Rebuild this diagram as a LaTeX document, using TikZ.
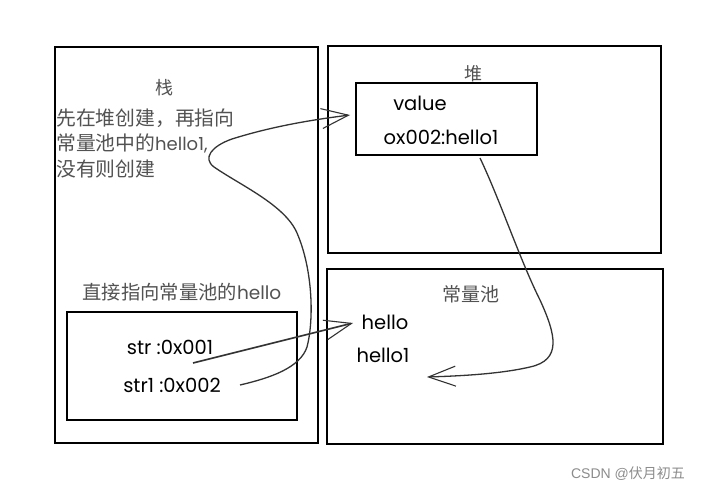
\documentclass[tikz,border=0pt]{standalone}
\usepackage{fontspec}
\setmainfont{Poppins}
\newfontfamily\cjk{Noto Sans CJK SC}
\usetikzlibrary{arrows.meta}
\tikzset{
  frame/.style={draw=black, line width=1.1pt, inner sep=0pt, fill=none},
  zh/.style={font=\cjk\fontsize{18}{20}\selectfont, text=black!68, inner sep=0pt},
  en/.style={font=\fontsize{19.5}{22}\selectfont, text=black, inner sep=0pt},
  conn/.style={draw=black!80, line width=1.3pt, -{Straight Barb[length=27pt,width=20pt,line width=1.1pt]}},
}
\begin{document}
\begin{tikzpicture}[x=1pt,y=-1pt]
\useasboundingbox[fill=white] (0,0) rectangle (712,492);
% frames
\node[frame, minimum width=263pt, minimum height=396pt] (stack) at (186.5,245) {};
\node[frame, minimum width=333pt, minimum height=207pt] (heap) at (494.5,149.5) {};
\node[frame, minimum width=181pt, minimum height=72pt] (valbox) at (446.5,119) {};
\node[frame, minimum width=336pt, minimum height=175pt] (pool) at (495,356.5) {};
\node[frame, minimum width=230pt, minimum height=108pt] (inner) at (182,366) {};
% texts
\node[zh] (tstack) at (164,88) {栈};
\node[zh, anchor=west, align=left, font=\cjk\fontsize{19.8}{25.5}\selectfont] (note) at (56,143)
  {先在堆创建，再指向\\常量池中的{\fontspec{Poppins}\fontsize{18}{25.5}\selectfont hello1,}\\没有则创建};
\node[zh] (theap) at (473,74) {堆};
\node[en] (value) at (420,103) {value};
\node[en] (addr) at (441,137) {ox002:hello1};
\node[zh, font=\cjk\fontsize{19.3}{22}\selectfont] (direct) at (182,292) {直接指向常量池的{\fontspec{Poppins}\fontsize{18.5}{22}\selectfont hello}};
\node[en] (str) at (170,347) {str :0x001};
\node[en] (strone) at (172,385) {str1 :0x002};
\node[zh, font=\cjk\fontsize{19}{22}\selectfont] (tpool) at (471,294) {常量池};
\node[en] (hello) at (385,322) {hello};
\node[en] (helloone) at (383,355) {hello1};
\node[font=\fontspec{Liberation Sans}\fontsize{14}{16}\selectfont, text=black!45, inner sep=0pt] (mark) at (628,474) {CSDN @\cjk 伏月初五};
% connector ends
\coordinate (s1end) at (240,385);
\coordinate (valin) at (350,115);
\coordinate (s0end) at (193,363);
\coordinate (helloin) at (353,323);
\coordinate (valout) at (480,158);
\coordinate (poolin) at (427,377);
% connectors
\draw[conn] (s1end) .. controls (270,378) and (300,368) .. (307,347)
  .. controls (314,320) and (313,270) .. (297,233)
  .. controls (285,205) and (240,185) .. (214,167)
  .. controls (202,158) and (212,146) .. (232,139)
  .. controls (270,127) and (310,120) .. (valin);
\draw[conn, line width=1.6pt] (s0end) -- (helloin);
\draw[conn] (valout) .. controls (500,200) and (520,260) .. (540,300)
  .. controls (556,335) and (562,360) .. (530,367)
  .. controls (500,374) and (460,376) .. (poolin);
\end{tikzpicture}
\end{document}
